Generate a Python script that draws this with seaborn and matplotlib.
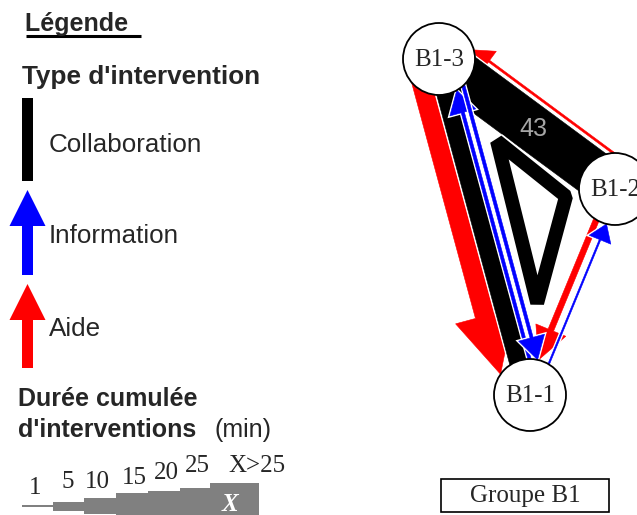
import numpy as np
import matplotlib.pyplot as plt
import seaborn as sns
from matplotlib.patches import FancyArrow, Polygon, Rectangle, Circle
import matplotlib.patheffects as pe

# Participants of group B1
nodes = ["B1-1", "B1-2", "B1-3"]

# Interventions between participants (cumulated duration in minutes)
sources = ["B1-3", "B1-2", "B1-3", "B1-3", "B1-1", "B1-3", "B1-2", "B1-1"]
targets = ["B1-2", "B1-3", "B1-1", "B1-1", "B1-3", "B1-1", "B1-1", "B1-2"]
kinds = ["Collaboration", "Aide", "Collaboration", "Aide",
         "Information", "Information", "Aide", "Information"]
minutes = [43, 2, 17, 18, 3, 3, 5.5, 1.5]
shown_label = ["43", "", "", "", "", "", "", ""]

# Collaboration involving the three participants together
group_minutes = 13

# Legend scale of durations
scale_labels = ["1", "5", "10", "15", "20", "25", "X>25"]

# ---- layout / style ----
pos = {"B1-1": (530, 395), "B1-2": (615, 189), "B1-3": (439, 59)}
R = 36
offsets = [0, 28, 2.5, 23, 9, -16.5, 5.5, 5.5]
# corners of the group triangle as weights of (B1-3, B1-2, B1-1)
tri_weights = [(0.60, 0.254, 0.146), (0.20, 0.638, 0.162), (0.134, 0.228, 0.638)]
colors = {"Collaboration": "black", "Information": "#0000ff", "Aide": "#ff0000"}
PX = 1.07  # pixels per minute
halo = [pe.Stroke(linewidth=2.4, foreground="white"), pe.Normal()]

sns.set_theme(style="white")
plt.rcParams["font.family"] = ["Liberation Sans", "DejaVu Sans"]
SERIF = ["Liberation Serif", "DejaVu Serif"]

fig = plt.figure(figsize=(6.37, 5.15), dpi=100)
ax = fig.add_axes([0, 0, 1, 1])
ax.set_xlim(0, 637)
ax.set_ylim(515, 0)
ax.axis("off")


def edge_geom(s, t, off):
    (x0, y0), (x1, y1) = pos[s], pos[t]
    L = np.hypot(x1 - x0, y1 - y0)
    ux, uy = (x1 - x0) / L, (y1 - y0) / L
    nx, ny = -uy, ux
    return x0 + off * nx, y0 + off * ny, ux, uy, L


def draw_edge(s, t, kind, mins, off, z):
    w = mins * PX
    sx, sy, ux, uy, L = edge_geom(s, t, off)
    if kind == "Collaboration":
        end = L
        hw, hl = w, 0.0
    else:
        end = L - np.sqrt(R ** 2 - off ** 2)
        hw = 20 + 2.1 * w
        hl = hw * min(1.0, 0.6 + 0.08 * w)
    arr = FancyArrow(sx, sy, ux * end, uy * end, width=w, head_width=hw,
                     head_length=hl, length_includes_head=True,
                     facecolor=colors[kind], edgecolor=colors[kind], lw=0.4,
                     zorder=z, path_effects=halo)
    ax.add_patch(arr)


order = {"Aide": 2, "Collaboration": 3, "Information": 5}
for s, t, k, m, off in zip(sources, targets, kinds, minutes, offsets):
    draw_edge(s, t, k, m, off, order[k])

# group collaboration triangle inside the three links
corner_nodes = np.array([pos["B1-3"], pos["B1-2"], pos["B1-1"]], dtype=float)
tri = np.array(tri_weights) @ corner_nodes
tri_lw = group_minutes * PX * 0.72
ax.add_patch(Polygon(tri, closed=True, fill=False, edgecolor="black",
                     lw=tri_lw, joinstyle="bevel", zorder=4,
                     path_effects=[pe.Stroke(linewidth=tri_lw + 2.4,
                                             foreground="white"), pe.Normal()]))

# duration labels on edges
for s, t, lab in zip(sources, targets, shown_label):
    if lab:
        (x0, y0), (x1, y1) = pos[s], pos[t]
        f = 0.535
        ax.text(x0 + f * (x1 - x0), y0 + f * (y1 - y0), lab, color="#a6a6a6",
                fontsize=18, ha="center", va="center", zorder=6)

# nodes
for n in nodes:
    ax.add_patch(Circle(pos[n], R, facecolor="white", edgecolor="black",
                        lw=1.3, zorder=7))
    ax.text(pos[n][0], pos[n][1] + 1, n, family=SERIF, fontsize=18,
            ha="center", va="center", zorder=8)

# group box
ax.add_patch(Rectangle((441, 479), 168, 33, facecolor="white",
                       edgecolor="black", lw=1.2))
ax.text(525, 496, "Groupe B1", family=SERIF, fontsize=18, ha="center",
        va="center")

# ---- legend ----
ax.text(25, 31, "Légende ", fontsize=18, fontweight="bold", va="baseline")
ax.plot([26, 141], [36, 36], color="black", lw=2.2, solid_capstyle="butt")
ax.text(22, 84, "Type d'intervention", fontsize=18.8, fontweight="bold",
        va="baseline")

ax.add_patch(Rectangle((22, 98), 11, 83, color="black", lw=0))
ax.add_patch(FancyArrow(27.5, 275, 0, -85, width=11, head_width=36,
                        head_length=36, length_includes_head=True,
                        color=colors["Information"], lw=0))
ax.add_patch(FancyArrow(27.5, 368, 0, -84, width=11, head_width=36,
                        head_length=36, length_includes_head=True,
                        color=colors["Aide"], lw=0))
ax.text(49, 151.5, "Collaboration", fontsize=18.7, va="baseline")
ax.text(49, 243, "Information", fontsize=18.7, va="baseline")
ax.text(49, 336.5, "Aide", fontsize=18.7, va="baseline")

ax.text(18, 406, "Durée cumulée", fontsize=18, fontweight="bold",
        va="baseline")
ax.text(18, 437, "d'interventions", fontsize=18, fontweight="bold",
        va="baseline")
ax.text(215, 437, "(min)", fontsize=18, va="baseline")

# duration scale
bar_edges = np.array([22, 53, 84, 116, 148, 180, 210, 259])
bar_px = np.array([2, 9, 15.5, 26.5, 30.5, 36.5, 45.5])
ax.bar(bar_edges[:-1], bar_px, bottom=506 - bar_px / 2,
       width=np.diff(bar_edges), align="edge", color="#808080", lw=0)
label_x = [35, 68, 97, 134, 166, 197, 257]
label_y = [494, 488, 488, 484, 479, 472, 472]
for lab, lx, ly in zip(scale_labels, label_x, label_y):
    ax.text(lx, ly, lab, family=SERIF, fontsize=18, ha="center",
            va="baseline")
ax.text(230, 511, "X", family=SERIF, fontsize=18, style="italic",
        fontweight="bold", color="white", ha="center", va="baseline")

fig.savefig("out.png", dpi=100)
